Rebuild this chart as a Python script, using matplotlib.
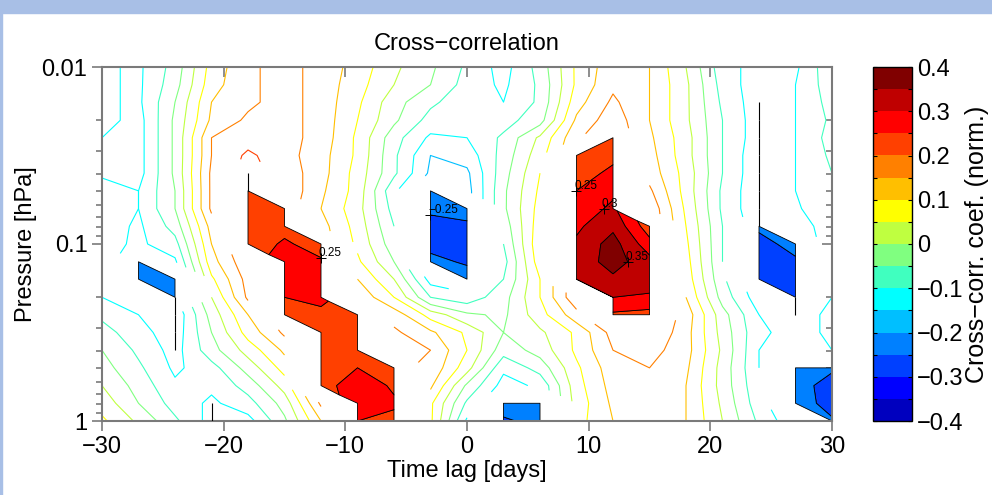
import numpy as np
import matplotlib.pyplot as plt
from matplotlib.colors import ListedColormap, BoundaryNorm
from matplotlib.cm import ScalarMappable
from matplotlib.ticker import FixedLocator, LogLocator, NullFormatter, FuncFormatter
from matplotlib.patches import Rectangle
from matplotlib.transforms import offset_copy

plt.rcParams['font.family'] = ['Liberation Sans', 'DejaVu Sans']

# time lag, days
lags = [-30, -27, -24, -21, -18, -15, -12, -9, -6, -3, 0, 3, 6, 9, 12, 15, 18, 21, 24, 27, 30]
# pressure levels, hPa (top of domain first)
pres = [0.01, 0.0126, 0.0158, 0.02, 0.0251, 0.0316, 0.0398, 0.0501, 0.0631, 0.0794,
        0.1, 0.126, 0.158, 0.2, 0.251, 0.316, 0.398, 0.501, 0.631, 0.794, 1.0]

# normalised cross-correlation x 100, one row per pressure level
ccf = [
    [-14, -16, -8, 7, 14, 17, 13, 8, 1, -4, -11, -17, -8, 6, 13, 10, 0, -13, -17, -16, -6],
    [-14, -16, -7, 8, 14, 17, 13, 7, 0, -5, -12, -16, -9, 6, 14, 10, 1, -12, -18, -15, -7],
    [-14, -16, -5, 10, 14, 17, 13, 6, -3, -9, -13, -15, -9, 8, 16, 10, 1, -11, -18, -15, -8],
    [-13, -17, -4, 11, 16, 17, 13, 5, -4, -12, -13, -12, -7, 11, 18, 10, 1, -10, -18, -15, -9],
    [-15, -17, -4, 15, 18, 17, 13, 4, -8, -16, -15, -9, 1, 14, 21, 11, 2, -10, -18, -15, -8],
    [-16, -17, -4, 15, 21, 17, 12, 4, -9, -20, -18, -8, 3, 22, 24, 12, 2, -10, -19, -15, -9],
    [-16, -17, -4, 16, 21, 18, 12, 3, -9, -21, -21, -7, 5, 23, 26, 13, 3, -10, -19, -15, -10],
    [-12, -15, -5, 16, 21, 19, 11, 3, -14, -21, -22, -6, 6, 25, 29, 16, 3, -11, -19, -15, -10],
    [-12, -15, -5, 16, 21, 21, 10, 2, -12, -24, -23, -6, 7, 27, 31, 19, 4, -11, -19, -16, -10],
    [-12, -16, -8, 12, 21, 23, 12, 3, -10, -27, -26, -8, 8, 29, 34, 22, 5, -10, -24, -19, -11],
    [-13, -16, -12, 10, 21, 26, 22, 4, -8, -27, -28, -10, 9, 31, 37, 27, 6, -10, -27, -23, -12],
    [-14, -21, -16, 8, 19, 28, 26, 6, -5, -23, -26, -12, 8, 32, 37, 32, 7, -10, -28, -26, -13],
    [-15, -22, -22, 4, 17, 28, 27, 10, 0, -17, -21, -10, 5, 30, 34, 33, 8, -9, -25, -28, -14],
    [-15, -18, -21, 0, 16, 25, 26, 14, 5, -10, -13, -7, 5, 19, 30, 29, 10, -7, -18, -26, -15],
    [-11, -15, -19, -3, 10, 22, 24, 21, 13, 3, -4, -6, 3, 13, 24, 23, 13, -3, -15, -17, -14],
    [-8, -13, -18, -5, 7, 16, 23, 22, 16, 11, 4, -5, -1, 6, 17, 20, 12, -2, -14, -17, -14],
    [-5, -11, -17, -7, 2, 11, 22, 23, 17, 15, 5, -8, -3, 6, 15, 17, 12, -1, -15, -18, -15],
    [-3, -9, -16, -12, -3, 7, 22, 25, 21, 14, 2, -14, -8, 4, 13, 15, 11, -2, -15, -21, -24],
    [0, -7, -14, -14, -8, 2, 22, 29, 24, 11, -6, -17, -14, 3, 12, 14, 10, -2, -14, -22, -28],
    [3, -5, -12, -16, -12, -3, 16, 28, 26, 6, -11, -22, -21, 2, 11, 14, 10, -1, -13, -21, -28],
    [6, -1, -9, -17, -17, -6, 10, 25, 23, 6, -16, -26, -23, 3, 10, 13, 10, 0, -11, -19, -24],
]

# significance flag per grid point (1 = significant)
signif = [
    "000000000000000000000",
    "000000000000000000000",
    "000000000000000000100",
    "000000000000000000100",
    "000000000000001000100",
    "000000000000011000100",
    "000010000000011000100",
    "000010000100011000100",
    "000011000110011000100",
    "000011000110011100100",
    "000011100110011100110",
    "010001100110011100110",
    "011001100010011100110",
    "001001100000001100010",
    "001001110000001100010",
    "001000110000000000000",
    "001000110000000000000",
    "000000111000000000011",
    "000000111000000000011",
    "000100011001100000011",
    "000100011001100000001",
]

# contour labels on the shaded areas
lab_levels = [0.25, -0.25, 0.25, 0.3, 0.35]
lab_pos = [(-13.1, 0.109), (-1.6, 0.076), (9.6, 0.045), (11.2, 0.062), (13.1, 0.14)]

band_colors = ['#0000bf', '#0000ff', '#0040ff', '#0080ff', '#00bfff', '#00ffff',
               '#40ffbf', '#80ff80', '#bfff40', '#ffff00', '#ffbf00', '#ff8000',
               '#ff4000', '#ff0000', '#bf0000', '#800000']
cmap = ListedColormap(band_colors)
levels = np.round(np.arange(-0.4, 0.401, 0.05), 2)
norm = BoundaryNorm(levels, cmap.N)

z = np.array(ccf) / 100.0
sig = np.array([[c == '1' for c in row] for row in signif])

fig = plt.figure(figsize=(9.92, 4.95), dpi=100)
fig.add_artist(Rectangle((0, 1 - 13 / 495), 1, 13 / 495, transform=fig.transFigure,
                         color='#a8bfe6', zorder=0))
fig.add_artist(Rectangle((0, 0), 2 / 992, 1, transform=fig.transFigure,
                         color='#a8bfe6', zorder=0))

ax = fig.add_axes([102 / 992, 74 / 495, 730 / 992, 354 / 495])
ax.set_yscale('log')
ax.set_xlim(-30, 30)
ax.set_ylim(1, 0.01)

# coloured isolines, blanked where a significant value of |r| >= 0.2 sits
z_lines = np.ma.masked_where(sig & (np.abs(z) >= 0.2), z)
ax.contour(lags, pres, z_lines, levels=levels[1:-1], cmap=cmap, norm=norm,
           linewidths=0.8, zorder=1)

# shaded significant areas with black outlines
z_fill = np.ma.masked_where(~sig, z)
cf = ax.contourf(lags, pres, z_fill, levels=levels, cmap=cmap, norm=norm,
                 antialiased=True, zorder=2)
cf.set_edgecolor('k')
cf.set_linewidth(0.6)
cs = ax.contour(lags, pres, z_fill, levels=levels, colors='k', linewidths=0, zorder=3)

# significant columns with no neighbour to shade against collapse to a line
nrow, ncol = sig.shape
for c in range(ncol):
    for r in range(nrow - 1):
        if not (sig[r, c] and sig[r + 1, c]):
            continue
        left = c > 0 and (sig[r, c - 1] or sig[r + 1, c - 1])
        right = c < ncol - 1 and (sig[r, c + 1] or sig[r + 1, c + 1])
        if not left and not right:
            ax.vlines(lags[c], pres[r], pres[r + 1], colors='k', linewidth=0.8, zorder=3)


def fmt_num(v):
    if abs(v) < 1e-9:
        return '0'
    return f'{round(v, 2):g}'.replace('-', '\u2212')


def nearest_on_level(lev, pos):
    i = int(np.argmin(np.abs(cs.levels - lev)))
    pts = np.concatenate([s for s in cs.allsegs[i] if len(s)])
    disp = ax.transData.transform(pts)
    target = ax.transData.transform([pos])[0]
    return pts[np.argmin(((disp - target) ** 2).sum(axis=1))]


txt_tr = offset_copy(ax.transData, fig=fig, x=-1.5, y=-1.0, units='points')
for lev, pos in zip(lab_levels, lab_pos):
    x, y = nearest_on_level(lev, pos)
    ax.plot(x, y, marker='+', color='k', ms=7, mew=0.7, zorder=5)
    ax.text(x, y, fmt_num(lev), fontsize=8.5, ha='left', va='bottom',
            transform=txt_tr, zorder=5)

spine_col = '#7a7a7a'
for s in ax.spines.values():
    s.set_color(spine_col)
    s.set_linewidth(1.5)

xt = [-30, -20, -10, 0, 10, 20, 30]
ax.set_xticks(xt)
ax.xaxis.set_major_formatter(FuncFormatter(lambda v, p: fmt_num(v)))
ax.yaxis.set_major_locator(FixedLocator([0.01, 0.1, 1]))
ax.yaxis.set_major_formatter(FuncFormatter(lambda v, p: f'{v:g}'))
ax.yaxis.set_minor_locator(LogLocator(base=10, subs=np.arange(2, 10)))
ax.yaxis.set_minor_formatter(NullFormatter())
ax.tick_params(which='both', direction='out', color=spine_col, width=1.2, labelsize=17)
ax.tick_params(which='major', length=7)
ax.tick_params(which='minor', length=4)

top = ax.secondary_xaxis('top')
top.set_xticks(xt)
top.xaxis.set_major_formatter(NullFormatter())
top.tick_params(direction='in', length=7, color=spine_col, width=1.2)
top.spines['top'].set_visible(False)

right = ax.secondary_yaxis('right')
right.yaxis.set_major_locator(FixedLocator([0.01, 0.1, 1]))
right.yaxis.set_minor_locator(LogLocator(base=10, subs=np.arange(2, 10)))
right.yaxis.set_major_formatter(NullFormatter())
right.yaxis.set_minor_formatter(NullFormatter())
right.tick_params(which='both', direction='in', color=spine_col, width=1.2)
right.tick_params(which='major', length=7)
right.tick_params(which='minor', length=4)
right.spines['right'].set_visible(False)

ax.set_title('Cross\u2212correlation', fontsize=17, pad=12)
ax.set_xlabel('Time lag [days]', fontsize=17, labelpad=2)
ax.set_ylabel('Pressure [hPa]', fontsize=17, labelpad=3)

cax = fig.add_axes([873 / 992, 74 / 495, 39 / 992, 354 / 495])
cb = fig.colorbar(ScalarMappable(norm=norm, cmap=cmap), cax=cax,
                  ticks=[-0.4, -0.3, -0.2, -0.1, 0, 0.1, 0.2, 0.3, 0.4])
cb.ax.yaxis.set_major_formatter(FuncFormatter(lambda v, p: fmt_num(v)))
cb.ax.yaxis.set_minor_locator(FixedLocator(levels))
cb.ax.tick_params(which='both', direction='in', left=True, right=True,
                  length=3, width=0.8, labelsize=17)
cb.outline.set_linewidth(1.0)
cb.set_label('Cross\u2212corr. coef. (norm.)', fontsize=18, labelpad=1)

fig.savefig('out.png', dpi=100)
